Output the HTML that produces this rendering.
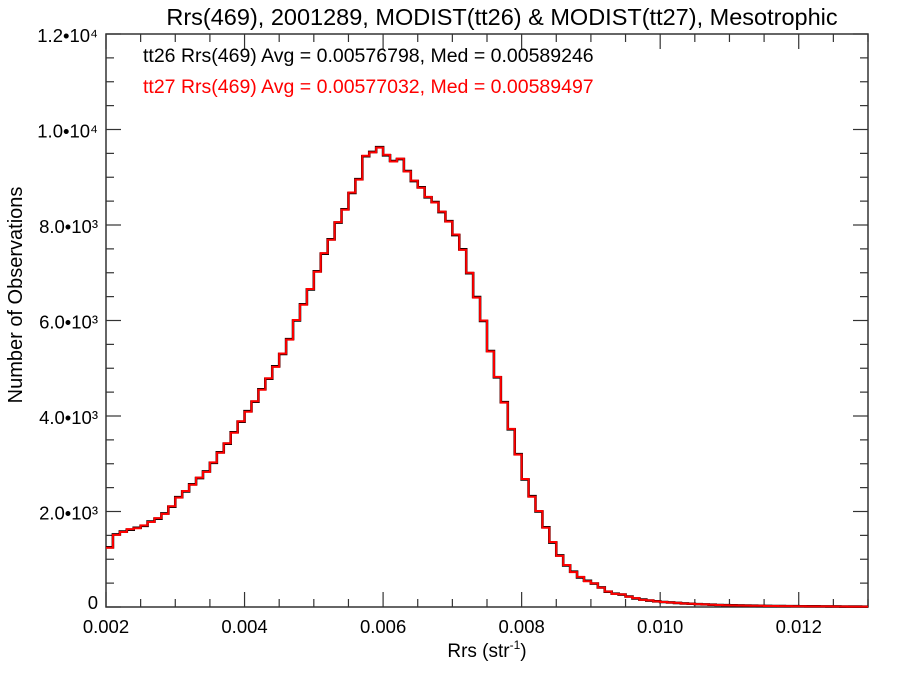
<!DOCTYPE html>
<html><head><meta charset="utf-8"><style>
html,body{margin:0;padding:0;background:#fff;}
svg{display:block;font-family:"Liberation Sans",sans-serif;}
</style></head><body>
<svg id="chart" width="900" height="675" viewBox="0 0 900 675">
<text x="502" y="25" font-size="23.5" text-anchor="middle" fill="#000">Rrs(469), 2001289, MODIST(tt26) &amp; MODIST(tt27), Mesotrophic</text>
<g id="axes"></g>
<g id="series"></g>
<text x="143" y="62" font-size="19.5" fill="#000">tt26 Rrs(469) Avg = 0.00576798, Med = 0.00589246</text>
<text x="143" y="93" font-size="19.5" fill="#ff0000">tt27 Rrs(469) Avg = 0.00577032, Med = 0.00589497</text>
<text x="487" y="657" font-size="19" text-anchor="middle">Rrs (str<tspan dy="-8" font-size="12">-1</tspan><tspan dy="8">)</tspan></text>
<text transform="translate(22,295) rotate(-90)" font-size="20" text-anchor="middle">Number of Observations</text>
</svg>
<script>
const binStart = 0.002;
const binWidth = 0.0001;
const tt26 = [1250,1520,1580,1620,1660,1700,1790,1850,1960,2100,
2300,2420,2570,2700,2840,3020,3240,3420,3660,3880,
4100,4300,4560,4780,5040,5300,5610,6000,6340,6650,
7030,7400,7700,8050,8330,8670,8960,9440,9530,9630,
9460,9340,9380,9130,8920,8790,8580,8480,8270,8080,
7790,7490,6990,6490,5990,5360,4810,4290,3720,3200,
2670,2320,2000,1670,1350,1080,870,740,620,550,
490,410,320,280,260,220,180,155,135,120,
105,95,85,75,68,60,55,48,42,38,
35,32,30,27,25,23,21,19,18,17,
16,15,14,13,12,11,10,9,9,8];
const tt27 = [1240,1510,1570,1630,1650,1710,1780,1860,1950,2110,
2290,2430,2560,2710,2830,3030,3230,3430,3650,3890,
4090,4310,4550,4790,5030,5310,5600,6010,6330,6660,
7020,7410,7690,8060,8320,8680,8950,9450,9520,9620,
9470,9330,9390,9120,8930,8780,8590,8470,8280,8070,
7800,7480,7000,6480,6000,5350,4820,4280,3730,3190,
2680,2310,2010,1660,1360,1070,880,730,630,540,
495,405,325,275,265,215,185,150,138,118,
106,94,86,74,69,59,56,47,43,37,
35,31,30,26,25,22,21,19,18,16,
16,14,14,12,12,11,10,9,8,8];
const xTicks = [0.002,0.004,0.006,0.008,0.010,0.012];
const xTickLabels = ["0.002","0.004","0.006","0.008","0.010","0.012"];
const yTicks = [0,2000,4000,6000,8000,10000,12000];
const yTickLabels = ["0","2.0•10³","4.0•10³","6.0•10³","8.0•10³","1.0•10⁴","1.2•10⁴"];

const L=106,R=868,T=34,B=607;
const xMin=0.002,xMax=0.013,yMin=0,yMax=12000;
const xs=v=>L+(v-xMin)/(xMax-xMin)*(R-L);
const ys=v=>B-(v-yMin)/(yMax-yMin)*(B-T);
const NS="http://www.w3.org/2000/svg";
const axes=document.getElementById('axes');
const series=document.getElementById('series');
function mk(tag,attrs,parent){const e=document.createElementNS(NS,tag);for(const k in attrs)e.setAttribute(k,attrs[k]);parent.appendChild(e);return e;}

const frame=mk('rect',{x:L,y:T,width:R-L,height:B-T,fill:'none',stroke:'#333','stroke-width':1.5},axes);



for(let v=xMin;v<=xMax+1e-9;v+=0.0005){
  const x=xs(v);
  const major=xTicks.some(t=>Math.abs(t-v)<1e-9);
  const len=major?15:8;
  const t1=mk('line',{x1:x,x2:x,y1:B,y2:B-len,stroke:'#333','stroke-width':1.2},axes);
  
  
  const t2=mk('line',{x1:x,x2:x,y1:T,y2:T+len,stroke:'#333','stroke-width':1.2},axes);
  
  
}
for(let v=yMin;v<=yMax;v+=500){
  const y=ys(v);
  const major=yTicks.includes(v);
  const len=major?15:8;
  const t1=mk('line',{x1:L,x2:L+len,y1:y,y2:y,stroke:'#333','stroke-width':1.2},axes);
  
  
  const t2=mk('line',{x1:R,x2:R-len,y1:y,y2:y,stroke:'#333','stroke-width':1.2},axes);
  
  
}
xTicks.forEach((v,i)=>{
  const t=mk('text',{x:xs(v),y:633,'font-size':18.5,'text-anchor':'middle'},axes);
  t.textContent=xTickLabels[i];
  
  
});
yTicks.forEach((v,i)=>{
  const t=mk('text',{x:98,y:ys(v)+(v===0?2:8),'font-size':18.5,'text-anchor':'end'},axes);
  t.textContent=yTickLabels[i];
  
  
});

function stepPath(vals){
  let d='';
  vals.forEach((v,i)=>{
    const x0=xs(binStart+i*binWidth), x1=xs(binStart+(i+1)*binWidth), y=ys(v);
    d+=(i===0?'M':'L')+x0.toFixed(2)+','+y.toFixed(2)+'L'+x1.toFixed(2)+','+y.toFixed(2);
  });
  return d;
}
const p1=mk('path',{d:stepPath(tt26),fill:'none',stroke:'#000','stroke-width':2.6},series);


const p2=mk('path',{d:stepPath(tt27),fill:'none',stroke:'#ff0000','stroke-width':2},series);


</script>
</body></html>
